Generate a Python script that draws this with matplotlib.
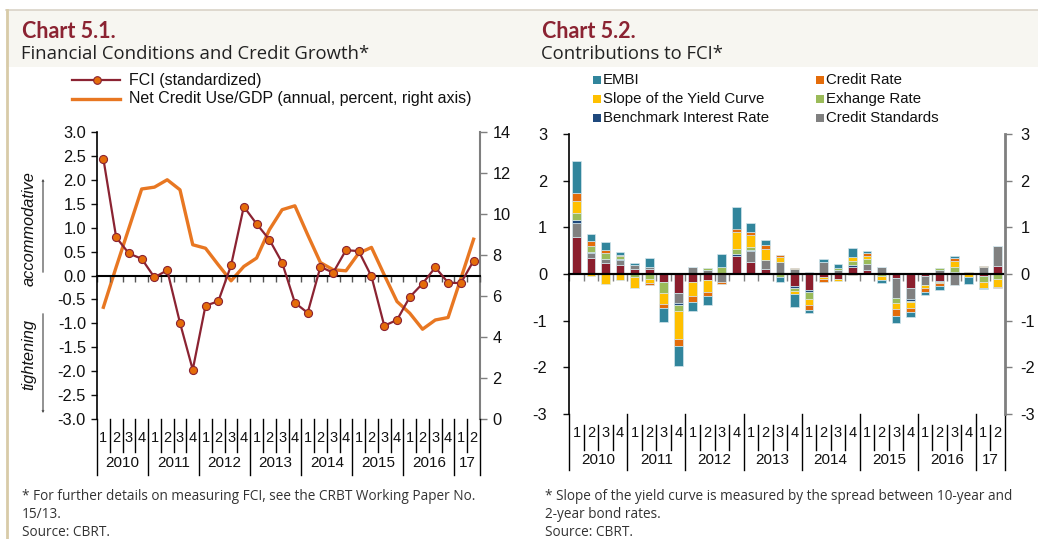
import matplotlib
matplotlib.use('Agg')
import matplotlib.pyplot as plt
import matplotlib.transforms as mtransforms
from matplotlib.lines import Line2D
from matplotlib.patches import Rectangle, FancyArrowPatch
import numpy as np

plt.rcParams['axes.unicode_minus'] = False
plt.rcParams['font.family'] = ['Liberation Sans', 'DejaVu Sans']

W, H = 1038, 539

# ---------------- data ----------------
quarters = ['1', '2', '3', '4'] * 7 + ['1', '2']
years = ['2010', '2011', '2012', '2013', '2014', '2015', '2016', '17']
year_lengths = [4, 4, 4, 4, 4, 4, 4, 2]

fci = [2.44, 0.80, 0.46, 0.35, -0.04, 0.11, -0.99, -1.97, -0.63, -0.54,
       0.21, 1.44, 1.08, 0.75, 0.27, -0.57, -0.78, 0.18, 0.06, 0.53,
       0.51, -0.02, -1.05, -0.93, -0.45, -0.17, 0.17, -0.15, -0.16, 0.31]
net_credit = [5.45, 7.41, 9.31, 11.22, 11.31, 11.67, 11.18, 8.50, 8.33, 7.52,
              6.74, 7.44, 7.85, 9.23, 10.21, 10.40, 8.99, 7.63, 7.28, 7.23,
              8.09, 8.37, 7.03, 5.73, 5.16, 4.38, 4.83, 4.95, 6.85, 8.77]

other = [0.80, 0.35, 0.24, 0.19, 0.11, 0.10, -0.18, -0.41, -0.18, -0.13,
         0.00, 0.39, 0.26, 0.11, 0.02, -0.26, -0.34, -0.07, -0.11, 0.16,
         0.08, 0.00, -0.09, -0.29, -0.035, -0.15, 0.03, 0.00, -0.04, 0.18]
credit_standards = [0.30, 0.11, 0.09, 0.11, 0.09, 0.04, 0.02, -0.21, 0.16, 0.09,
                    -0.18, 0.00, 0.23, 0.20, 0.24, 0.11, 0.05, 0.26, 0.085, 0.00,
                    0.14, 0.15, -0.43, -0.24, -0.19, 0.085, -0.235, 0.00, 0.15, 0.41]
benchmark_rate = [0.065, 0.02, 0.00, 0.015, 0.00, 0.00, 0.00, -0.04, 0.00, 0.00,
                  0.00, 0.035, 0.03, 0.00, 0.00, -0.04, -0.05, 0.00, 0.00, 0.03,
                  0.00, 0.00, 0.00, -0.04, 0.00, -0.02, 0.015, 0.00, 0.00, 0.00]
exchange_rate = [0.135, 0.12, 0.13, 0.07, -0.06, -0.11, -0.22, -0.14, 0.00, 0.035,
                 0.14, 0.11, 0.05, 0.00, -0.06, -0.065, -0.14, 0.00, 0.05, 0.08,
                 0.10, -0.05, -0.11, -0.04, -0.015, 0.05, 0.10, 0.00, -0.13, -0.11]
yield_slope = [0.27, -0.04, -0.22, -0.13, -0.23, -0.09, -0.24, -0.59, -0.29, -0.26,
               0.00, 0.37, 0.26, 0.22, 0.11, -0.065, -0.13, -0.04, -0.05, 0.10,
               0.065, -0.07, -0.12, -0.11, -0.06, -0.02, 0.135, -0.07, -0.12, -0.16]
credit_rate = [0.17, 0.11, 0.06, 0.03, -0.01, -0.03, -0.09, -0.16, -0.12, -0.09,
               -0.04, 0.07, 0.065, 0.085, 0.04, 0.015, -0.11, -0.065, 0.00, -0.02,
               0.055, 0.00, -0.15, -0.10, -0.085, -0.07, 0.06, 0.05, 0.015, -0.02]
embi = [0.69, 0.14, 0.17, 0.06, 0.035, 0.20, -0.30, -0.43, -0.20, -0.19,
        0.29, 0.46, 0.19, 0.12, -0.11, -0.27, -0.07, 0.07, 0.08, 0.19,
        0.05, -0.07, -0.16, -0.11, -0.065, -0.08, 0.055, -0.14, -0.035, 0.015]

components = [
    (None, other, '#8B1E2D'),
    ('Credit Standards', credit_standards, '#808080'),
    ('Benchmark Interest Rate', benchmark_rate, '#1F497D'),
    ('Exhange Rate', exchange_rate, '#9BBB59'),
    ('Slope of the Yield Curve', yield_slope, '#FFC000'),
    ('Credit Rate', credit_rate, '#E46C0A'),
    ('EMBI', embi, '#31859C'),
]
legend_order = ['EMBI', 'Credit Rate', 'Slope of the Yield Curve', 'Exhange Rate',
                'Benchmark Interest Rate', 'Credit Standards']

# ---------------- figure ----------------
fig = plt.figure(figsize=(W / 100, H / 100), dpi=100)
fig.patch.set_facecolor('white')


def fx(px):
    return px / W


def fy(py):
    return 1 - py / H


def ax_rect(l, r, t, b):
    return [fx(l), fy(b), fx(r) - fx(l), fy(t) - fy(b)]


# header band and borders
fig.add_artist(Rectangle((fx(6), fy(67)), 1 - fx(6), fy(10) - fy(67),
                         transform=fig.transFigure, facecolor='#F7F6F1',
                         edgecolor='none', zorder=0))
fig.add_artist(Line2D([fx(6), 1], [fy(9.5), fy(9.5)], transform=fig.transFigure,
                      color='#D9D3C7', lw=1.2))
fig.add_artist(Line2D([fx(6.5), fx(6.5)], [fy(9.5), 0], transform=fig.transFigure,
                      color='#D8CBA8', lw=2))

title_kw = dict(family=['Lato', 'DejaVu Sans'], fontsize=15.5, fontweight='bold',
                color='#8B2332', va='center', ha='left', transform=fig.transFigure)
sub_kw = dict(family=['Open Sans', 'DejaVu Sans'], fontsize=13.3, color='#222222',
              va='center', ha='left', transform=fig.transFigure)
foot_kw = dict(family=['Open Sans', 'DejaVu Sans'], fontsize=9.8, color='#333333',
               va='center', ha='left', transform=fig.transFigure)

fig.text(fx(22), fy(31), 'Chart 5.1.', **title_kw)
fig.text(fx(21), fy(54), 'Financial Conditions and Credit Growth*', **sub_kw)
fig.text(fx(542), fy(31), 'Chart 5.2.', **title_kw)
fig.text(fx(541), fy(54), 'Contributions to FCI*', **sub_kw)

fig.text(fx(22), fy(496), '* For further details on measuring FCI, see the CRBT Working Paper No.', **foot_kw)
fig.text(fx(22), fy(514), '15/13.', **foot_kw)
fig.text(fx(22), fy(533), 'Source: CBRT.', **foot_kw)
fig.text(fx(545), fy(496), '* Slope of the yield curve is measured by the spread between 10-year and', **foot_kw)
fig.text(fx(545), fy(514), '2-year bond rates.', **foot_kw)
fig.text(fx(545), fy(533), 'Source: CBRT.', **foot_kw)

n = len(fci)
x = np.arange(n) + 0.5
bounds = np.arange(n + 1)
year_bounds = np.concatenate([[0], np.cumsum(year_lengths)])


def category_axis(ax, q_top, q_bot, yr_top, yr_bot, q_y, yr_y):
    trans = mtransforms.blended_transform_factory(ax.transData, fig.transFigure)
    for b in bounds:
        if b in year_bounds:
            ax.plot([b, b], [fy(yr_top), fy(yr_bot)], color='black', lw=1,
                    transform=trans, clip_on=False)
        else:
            ax.plot([b, b], [fy(q_top), fy(q_bot)], color='black', lw=1,
                    transform=trans, clip_on=False)
    for xi, q in zip(x, quarters):
        ax.text(xi, fy(q_y), q, transform=trans, ha='center', va='center',
                fontsize=10.5, color='#111111')
    for i, yl in enumerate(years):
        cx = (year_bounds[i] + year_bounds[i + 1]) / 2
        ax.text(cx, fy(yr_y), yl, transform=trans, ha='center', va='center',
                fontsize=11, color='#111111')


def style_axes(ax, ypad):
    ax.set_facecolor('none')
    ax.spines['top'].set_visible(False)
    ax.spines['right'].set_visible(False)
    ax.spines['bottom'].set_position(('data', 0))
    ax.spines['bottom'].set_linewidth(1.5)
    ax.spines['left'].set_linewidth(1.2)
    ax.set_xlim(0, n)
    ax.set_xticks(bounds)
    ax.set_xticklabels([])
    ax.tick_params(axis='x', direction='out', length=4, width=1, color='#555555')
    ax.tick_params(axis='y', direction='out', length=4, width=1, labelsize=11.8,
                   pad=ypad, colors='#111111')


# ---------------- Chart 5.1 ----------------
ax1 = fig.add_axes(ax_rect(97, 480, 132, 419))
style_axes(ax1, 4)
ax1.set_ylim(-3, 3)
ax1.set_yticks(np.arange(-3, 3.01, 0.5))
ax1.set_yticklabels(['%.1f' % v for v in np.arange(-3, 3.01, 0.5)])

ax1b = ax1.twinx()
ax1b.set_ylim(0, 14)
ax1b.set_yticks(np.arange(0, 15, 2))
for s in ['top', 'left', 'bottom']:
    ax1b.spines[s].set_visible(False)
ax1b.spines['right'].set_color('#7F7F7F')
ax1b.spines['right'].set_linewidth(1.5)
ax1b.tick_params(axis='y', direction='out', length=5, width=1, labelsize=11.8,
                 pad=4, color='#7F7F7F', labelcolor='#111111')

ax1b.plot(x, net_credit, color='#E87722', lw=2.4, zorder=2)
ax1.set_zorder(ax1b.get_zorder() + 1)
ax1.plot(x, fci, color='#8B2332', lw=1.6, marker='o', markersize=5.8,
         markerfacecolor='#E46C0A', markeredgecolor='#8B2332', markeredgewidth=0.8,
         zorder=3)

category_axis(ax1, 419, 452, 419, 475, 438, 463)

# legend chart 5.1
fig.add_artist(Line2D([fx(72), fx(120)], [fy(80), fy(80)], transform=fig.transFigure,
                      color='#8B2332', lw=1.6))
fig.add_artist(Line2D([fx(97)], [fy(80)], transform=fig.transFigure, marker='o',
                      markersize=5.5, markerfacecolor='#E46C0A', markeredgecolor='#8B2332',
                      markeredgewidth=0.8, lw=0))
fig.add_artist(Line2D([fx(72), fx(120)], [fy(99), fy(99)], transform=fig.transFigure,
                      color='#E87722', lw=2.4))
fig.text(fx(129), fy(80), 'FCI (standardized)', fontsize=11.5, va='center', ha='left',
         color='#111111')
fig.text(fx(129), fy(99), 'Net Credit Use/GDP (annual, percent, right axis)',
         fontsize=11.5, va='center', ha='left', color='#111111')

# side annotations
fig.text(fx(29), fy(229), 'accommodative', rotation=90, style='italic', fontsize=11.8,
         ha='center', va='center', color='#111111')
fig.text(fx(29), fy(354), 'tightening', rotation=90, style='italic', fontsize=11.8,
         ha='center', va='center', color='#111111')
arrow_kw = dict(arrowstyle='->,head_length=1.0,head_width=0.5', color='#555555', lw=0.9)
fig.add_artist(FancyArrowPatch((fx(43), fy(275)), (fx(43), fy(176)),
               transform=fig.transFigure, **arrow_kw))
fig.add_artist(FancyArrowPatch((fx(43), fy(311)), (fx(43), fy(416)),
               transform=fig.transFigure, **arrow_kw))

# ---------------- Chart 5.2 ----------------
ax2 = fig.add_axes(ax_rect(569.3, 1005, 134, 414))
style_axes(ax2, 12)
ax2.set_ylim(-3, 3)
ax2.set_yticks(np.arange(-3, 4, 1))
ax2.tick_params(axis='x', color='#7F7F7F', length=5)

pos_bottom = np.zeros(n)
neg_bottom = np.zeros(n)
handles = {}
for label, vals, color in components:
    v = np.array(vals, dtype=float)
    bottom = np.where(v >= 0, pos_bottom, neg_bottom)
    ax2.bar(x, v, width=0.6, bottom=bottom, color=color,
            edgecolor='#D4E6EC', linewidth=0.5, zorder=2)
    pos_bottom = pos_bottom + np.where(v > 0, v, 0)
    neg_bottom = neg_bottom + np.where(v < 0, v, 0)
    if label:
        handles[label] = color

ax2.axhline(0, color='black', lw=1.5, zorder=3)

ax2b = ax2.twinx()
ax2b.set_ylim(-3, 3)
ax2b.set_yticks(np.arange(-3, 4, 1))
for s in ['top', 'left', 'bottom']:
    ax2b.spines[s].set_visible(False)
ax2b.spines['right'].set_color('#7F7F7F')
ax2b.spines['right'].set_linewidth(2)
ax2b.tick_params(axis='y', direction='out', length=5, width=1, labelsize=11.8,
                 pad=6, color='#7F7F7F', labelcolor='#111111')

category_axis(ax2, 425, 450, 414, 470, 433, 460)

# legend chart 5.2 (two columns)
leg_pos = {
    'EMBI': (593, 80), 'Slope of the Yield Curve': (593, 99),
    'Benchmark Interest Rate': (593, 118), 'Credit Rate': (816, 80),
    'Exhange Rate': (816, 99), 'Credit Standards': (816, 118),
}
for label in legend_order:
    px, py = leg_pos[label]
    fig.add_artist(Rectangle((fx(px), fy(py + 4)), fx(8), fy(0) - fy(8),
                             transform=fig.transFigure, facecolor=handles[label],
                             edgecolor='none'))
    fig.text(fx(px + 10), fy(py), label, fontsize=10.8, va='center', ha='left',
             color='#111111')

fig.savefig('out.png', dpi=100)
